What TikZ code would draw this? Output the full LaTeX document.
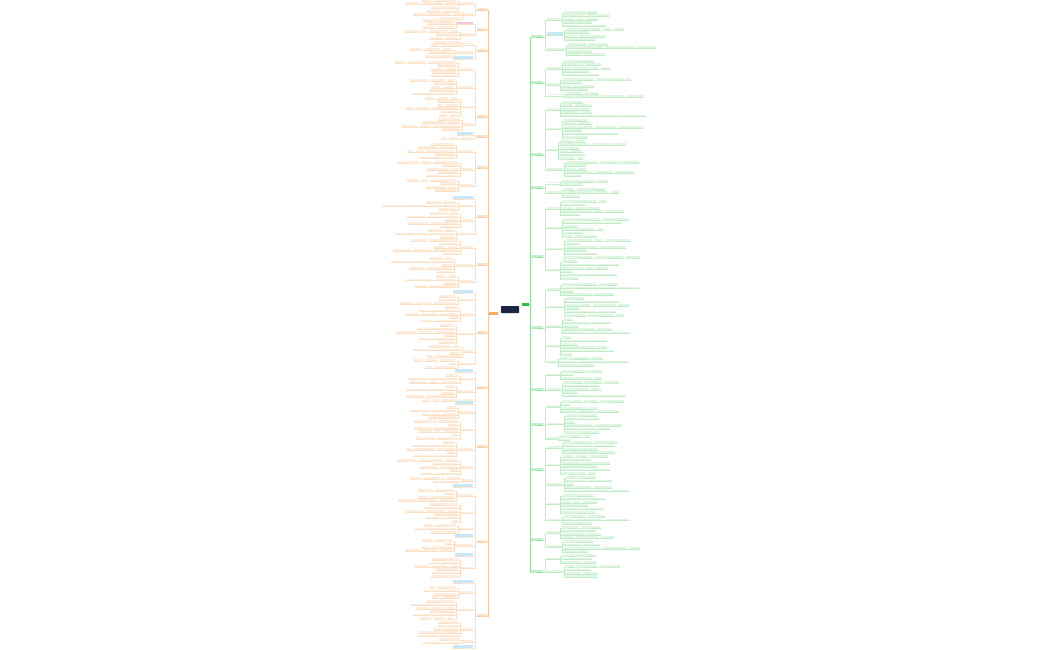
\documentclass[tikz,border=0pt]{standalone}
\usetikzlibrary{calc}
\definecolor{navy}{HTML}{1C2444}
\definecolor{org}{HTML}{F39A45}
\definecolor{grn}{HTML}{2EC046}
\definecolor{hblue}{HTML}{C8E8F7}
\definecolor{hpink}{HTML}{F6C6D8}
\newcount\rc
\tikzset{
  lb/.style={rectangle,inner sep=0pt,minimum height=1.7pt,fill=org!18,anchor=south east},
  rb/.style={rectangle,inner sep=0pt,minimum height=1.7pt,fill=grn!15,anchor=south west},
  ll/.style={draw=org!32,line width=0.25pt},
  rl/.style={draw=grn!30,line width=0.25pt},
  lspine/.style={draw=org!55,line width=0.6pt},
  rspine/.style={draw=grn!50,line width=0.6pt},
  hlb/.style={fill=hblue,minimum height=2.4pt},
  hlp/.style={fill=hpink,minimum height=2.4pt},
}
\newcommand\bump{\global\advance\rc by 1\relax
  \pgfmathtruncatemacro\wa{6+mod(mod(\the\rc,23)*14,23)}%
  \pgfmathtruncatemacro\wb{5+mod(mod(\the\rc,19)*7,19)}%
  \pgfmathtruncatemacro\wc{5+mod(mod(\the\rc,17)*5,17)}%
  \pgfmathtruncatemacro\cc{int(mod(mod(\the\rc,13)*5,13)/5)}}
% ---------- left side ----------
\newcommand\LK[3]{%
  \foreach \i in {1,...,#3}{%
    \bump
    \pgfmathsetmacro\yy{#2+(\i-1)*3.4}%
    \node[lb,minimum width=\wa pt,xshift=-3pt] (#1-\i) at (#1.south west |- 0,\yy) {};
    \draw[ll] (#1.south west) -- ++(-1.5,0) |- (#1-\i.south east) -- (#1-\i.south west);
    \ifnum\cc>0
      \node[lb,minimum width=\wb pt,xshift=-2.5pt] (#1-\i-a) at (#1-\i.south west) {};
      \draw[ll] (#1-\i.south west) -- (#1-\i-a.south east) -- (#1-\i-a.south west);
      \ifnum\cc>1
        \node[lb,minimum width=\wc pt,xshift=-2.5pt] (#1-\i-b) at (#1-\i-a.south west) {};
        \draw[ll] (#1-\i-a.south west) -- (#1-\i-b.south east) -- (#1-\i-b.south west);
      \fi
    \fi
  }}
\newcommand\LH[6][]{%
  \ifnum#6>0 \pgfmathsetmacro\hy{#5+(#6-1)*1.7}\else\def\hy{#5}\fi
  \node[lb,minimum width=#4pt,xshift=-3pt,#1] (#3) at (#2.south west |- 0,\hy) {};
  \draw[ll] (#2.south west) -- ++(-1.5,0) |- (#3.south east) -- (#3.south west);
  \ifnum#6>0 \LK{#3}{#5}{#6}\fi}
\newcommand\LO[3]{%
  \node[lb,minimum width=#3pt,fill=org!30] (#1) at (487,#2) {};
  \draw[lspine] (oroot.west) -- ++(-1,0) |- (#1.south east) -- (#1.south west);}
% ---------- right side ----------
\newcommand\RK[3]{%
  \foreach \i in {1,...,#3}{%
    \bump
    \pgfmathsetmacro\yy{#2+(\i-1)*3.4}%
    \pgfmathsetmacro\xa{\wa*1.25}\pgfmathsetmacro\xb{\wb*1.2}\pgfmathsetmacro\xc{\wc*1.2}%
    \node[rb,minimum width=\xa pt,xshift=3pt] (#1-\i) at (#1.south east |- 0,\yy) {};
    \draw[rl] (#1.south east) -- ++(1.5,0) |- (#1-\i.south west) -- (#1-\i.south east);
    \ifnum\cc>0
      \node[rb,minimum width=\xb pt,xshift=2.5pt] (#1-\i-a) at (#1-\i.south east) {};
      \draw[rl] (#1-\i.south east) -- (#1-\i-a.south west) -- (#1-\i-a.south east);
      \ifnum\cc>1
        \node[rb,minimum width=\xc pt,xshift=2.5pt] (#1-\i-b) at (#1-\i-a.south east) {};
        \draw[rl] (#1-\i-a.south east) -- (#1-\i-b.south west) -- (#1-\i-b.south east);
      \fi
    \fi
  }}
\newcommand\RH[6][]{%
  \ifnum#6>0 \pgfmathsetmacro\hy{#5+(#6-1)*1.7}\else\def\hy{#5}\fi
  \node[rb,minimum width=#4pt,xshift=3pt,#1] (#3) at (#2.south east |- 0,\hy) {};
  \draw[rl] (#2.south east) -- ++(1.5,0) |- (#3.south west) -- (#3.south east);
  \ifnum#6>0 \RK{#3}{#5}{#6}\fi}
\newcommand\RO[3]{%
  \node[rb,minimum width=#3pt,fill=grn!28] (#1) at (531,#2) {};
  \draw[rspine] (groot.east) -- ++(1,0) |- (#1.south west) -- (#1.south east);}
\begin{document}
\begin{tikzpicture}[x=1pt,y=-1pt]
\fill[white] (0,0) rectangle (1050,650);
\useasboundingbox (0,0) rectangle (1050,650);
% roots
\node[fill=navy,minimum width=18pt,minimum height=7pt,inner sep=0pt,rounded corners=0.6pt] (ctr) at (510,309.5) {};
\node[fill=org!85,minimum width=9pt,minimum height=2.8pt,inner sep=0pt] (oroot) at (493.5,313.5) {};
\node[fill=grn,minimum width=7pt,minimum height=2.8pt,inner sep=0pt] (groot) at (525.5,304.3) {};
\draw[draw=gray!30,line width=0.3pt] (ctr.west) -- (oroot.east);
\draw[draw=gray!30,line width=0.3pt] (ctr.east) -- (groot.west);
% ===== left =====
\LO{A}{10}{10}
\LH{A}{A1}{14}{1}{3}
\LH{A}{A2}{10}{12}{3}
\LO{B}{30}{10}
\LH[hlp]{B}{B1}{16}{21}{3}
\LH{B}{B2}{12}{32}{3}
\LO{C}{51}{10}
\LH{C}{C1}{10}{43}{2}
\LH{C}{C2}{18}{50}{3}
\LH[hlb]{C}{C3}{20}{59}{0}
\LO{D}{117}{10}
\LH{D}{D1}{14}{63}{5}
\LH{D}{D2}{16}{81}{5}
\LH{D}{D3}{12}{99}{6}
\LH{D}{D4}{10}{120}{4}
\LO{E}{137}{10}
\LH[hlb]{E}{E1}{16}{135}{0}
\LH{E}{E2}{12}{139}{1}
\LO{F}{168}{10}
\LH{F}{F1}{16}{145}{5}
\LH{F}{F2}{12}{163}{5}
\LH{F}{F3}{14}{181}{4}
\LO{G}{217}{10}
\LH[hlb]{G}{G0}{20}{199}{0}
\LH{G}{G1}{14}{203}{3}
\LH{G}{G2}{12}{214}{5}
\LH{G}{G3}{16}{231}{3}
\LO{H}{265}{10}
\LH{H}{H1}{12}{241}{5}
\LH{H}{H2}{18}{259}{5}
\LH{H}{H3}{14}{277}{4}
\LO{I}{333}{10}
\LH[hlb]{I}{I0}{20}{293}{0}
\LH{I}{I1}{14}{297}{3}
\LH{I}{I2}{12}{308}{5}
\LH{I}{I3}{16}{326}{6}
\LH{I}{I4}{10}{347}{4}
\LH{I}{I5}{14}{361}{3}
\LO{J}{388}{10}
\LH[hlb]{J}{J0}{18}{372}{0}
\LH{J}{J1}{12}{376}{3}
\LH{J}{J2}{16}{387}{4}
\LH{J}{J3}{10}{401}{1}
\LO{K}{447}{10}
\LH[hlb]{K}{K0}{18}{404}{0}
\LH{K}{K1}{14}{408}{4}
\LH{K}{K2}{12}{422}{6}
\LH{K}{K3}{16}{443}{5}
\LH{K}{K4}{12}{461}{5}
\LH{K}{K5}{10}{479}{2}
\LH[hlb]{K}{K6}{20}{487}{0}
\LO{M}{542}{10}
\LH{M}{M1}{16}{491}{4}
\LH{M}{M2}{12}{505}{6}
\LH{M}{M3}{14}{526}{3}
\LH[hlb]{M}{M4}{18}{537}{0}
\LH{M}{M5}{18}{541}{4}
\LH[hlb]{M}{M6}{18}{556}{0}
\LH{M}{M7}{12}{560}{6}
\LO{N}{616}{10}
\LH[hlb]{N}{N0}{20}{583}{0}
\LH{N}{N1}{14}{588}{4}
\LH{N}{N2}{16}{602}{6}
\LH{N}{N3}{12}{623}{5}
\LH{N}{N4}{10}{640}{2}
\LH[hlb]{N}{N5}{20}{648}{0}
% ===== right =====
\RO{a}{37}{12}
\RH{a}{a1}{14}{13}{5}
\RH[hlb]{a}{a2}{16}{30}{4}
\RH{a}{a3}{18}{45}{4}
\RO{b}{83}{12}
\RH{b}{b1}{14}{62}{5}
\RH{b}{b2}{12}{80}{4}
\RH{b}{b3}{16}{94}{2}
\RO{c}{155}{12}
\RH{c}{c1}{12}{103}{5}
\RH{c}{c2}{14}{121}{6}
\RH{c}{c3}{10}{142}{6}
\RH{c}{c4}{16}{163}{5}
\RO{d}{188}{12}
\RH{d}{d1}{12}{182}{2}
\RH{d}{d2}{14}{190}{3}
\RO{e}{257}{12}
\RH{e}{e1}{12}{202}{5}
\RH{e}{e2}{14}{220}{6}
\RH{e}{e3}{16}{241}{6}
\RH{e}{e4}{12}{262}{6}
\RO{f}{328}{12}
\RH{f}{f1}{12}{285}{4}
\RH{f}{f2}{16}{299}{6}
\RH{f}{f3}{14}{320}{5}
\RH{f}{f4}{12}{338}{6}
\RH{f}{f5}{10}{359}{3}
\RO{g}{390}{12}
\RH{g}{g1}{12}{372}{3}
\RH{g}{g2}{14}{383}{5}
\RO{h}{425}{12}
\RH{h}{h1}{12}{402}{4}
\RH{h}{h2}{16}{416}{6}
\RH{h}{h3}{10}{437}{2}
\RO{i}{470}{12}
\RH{i}{i1}{14}{443}{4}
\RH{i}{i2}{12}{457}{6}
\RH{i}{i3}{16}{478}{5}
\RH{i}{i4}{12}{496}{6}
\RH{i}{i5}{14}{517}{3}
\RO{j}{540}{12}
\RH{j}{j1}{12}{528}{4}
\RH{j}{j2}{14}{542}{4}
\RO{k}{572}{12}
\RH{k}{k1}{12}{556}{3}
\RH{k}{k2}{16}{567}{4}
\end{tikzpicture}
\end{document}
